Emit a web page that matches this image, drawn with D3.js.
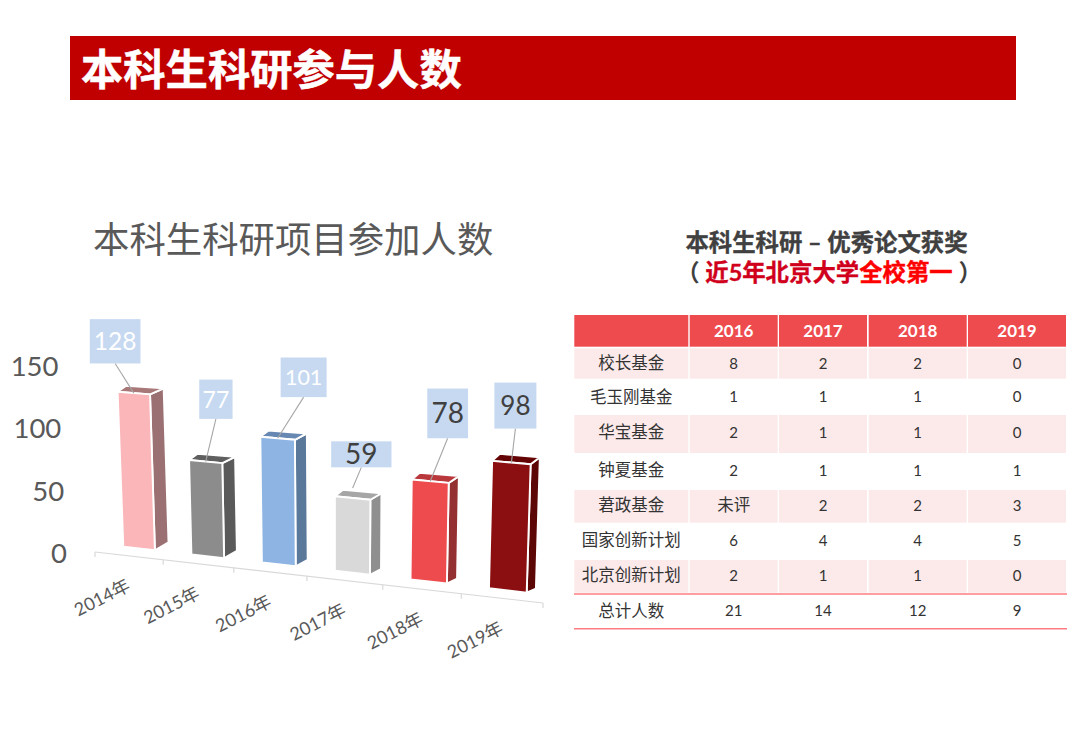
<!DOCTYPE html>
<html lang="zh">
<head>
<meta charset="utf-8">
<script src="https://cdn.jsdelivr.net/npm/d3@7/dist/d3.min.js"></script>
<style>
html,body{margin:0;padding:0;background:#fff;}
svg{display:block;}
text{font-family:Lato,"Noto Sans CJK SC",sans-serif;}
</style>
</head>
<body>
<svg id="c" width="1080" height="741"></svg>
<script>
// ---- chart data ----
const pageTitle = "本科生科研参与人数";
const chartTitle = "本科生科研项目参加人数";
const categories = ["2014年","2015年","2016年","2017年","2018年","2019年"];
const participants = [128,77,101,59,78,98];
const yTicks = [0,50,100,150];

// ---- table data ----
const tableTitle = "本科生科研 – 优秀论文获奖";
const tableYears = ["2016","2017","2018","2019"];
const tableRows = ["校长基金","毛玉刚基金","华宝基金","钟夏基金","莙政基金","国家创新计划","北京创新计划","总计人数"];
const awards2016 = [8,1,2,2,"未评",6,2,21];
const awards2017 = [2,1,1,1,2,4,1,14];
const awards2018 = [2,1,1,1,2,4,1,12];
const awards2019 = [0,0,0,1,3,5,0,9];

// ---- styling / layout ----
const barFaces = [
  {front:"#FAB6B8",side:"#9A7072",top:"#A87778"},
  {front:"#8C8C8C",side:"#5A5A5A",top:"#5F5F5F"},
  {front:"#8DB4E2",side:"#5A7899",top:"#6688B3"},
  {front:"#D9D9D9",side:"#8F8F8F",top:"#A6A6A6"},
  {front:"#EE4B4F",side:"#953032",top:"#B8383C"},
  {front:"#8B0F10",side:"#5D0606",top:"#650404"}
];
const calloutLayout = [
  {dx:-18.7,dy:-51.8,w:50.7,h:44.3,size:24.5,color:"#fff",endDy:0},
  {dx:10.2,dy:-62.3,w:33.3,h:39.3,size:23,color:"#fff",endDy:0},
  {dx:26,dy:-61,w:46,h:39.6,size:21.5,color:"#fff",endDy:0},
  {dx:8.7,dy:-43.7,w:60.3,h:26,size:28,color:"#404040",endDy:-10},
  {dx:17.4,dy:-67.8,w:40.7,h:49.7,size:28,color:"#404040",endDy:0},
  {dx:4,dy:-57,w:42,h:46,size:26,color:"#404040",endDy:0}
];
const colEdges = [[574.3,688.3],[689.7,777.7],[779,867],[868.7,966.7],[968,1066]];
const headerBand = [315,346.7];
const rowBands = [[348.3,378.7],[379,414],[415,453],[453,489],[490,522.7],[523,559],[560,592.7],[594,628.7]];
const rowCentres = [364,397.3,433,471,506,541,576,611.3];

const svg = d3.select("#c");

// banner
svg.append("rect").attr("x",70).attr("y",36).attr("width",946).attr("height",64).attr("fill","#C00000");
svg.append("text").attr("x",81).attr("y",68.5).attr("dominant-baseline","central")
  .attr("font-size",42.3).attr("font-weight",700).attr("fill","#fff").attr("stroke","#fff").attr("stroke-width",0.5).text(pageTitle);

// chart title
svg.append("text").attr("x",93).attr("y",239).attr("dominant-baseline","central")
  .attr("font-size",36.4).attr("fill","#595959").text(chartTitle);

// ---- perspective projection of the 3-D column chart ----
const W = 1.114;
const persp = u => u/(u+W*(1-u));
const screenX = d3.scaleLinear().domain([0,1]).range([95,543]);
const axisY = d3.scaleLinear().domain([95,543]).range([552,603]);
const floorY = d3.scaleLinear().domain([123.3,489]).range([546.7,588.3]);
const heightPerUnit = d3.scaleLinear().domain([123.3,489]).range([1.21,1.30]);
const LEAN = 0.00021, VANISH_X = 335;
const project = (u,v) => {
  const x0 = screenX(persp(u));
  return [x0+(x0-VANISH_X)*LEAN*v, floorY(x0)-v*heightPerUnit(x0)];
};
const depthX = d3.scaleLinear().domain([155,527]).range([13.6,9.2]);
const depthBottomY = d3.scaleLinear().domain([155,527]).range([-8,-4]);
const depthTopY = d3.scaleLinear().domain([155,527]).range([-6,-7]);
const leftInset = d3.scaleLinear().domain([155,527]).range([5,1.5]);

const band = d3.scaleBand().domain(categories).range([0.0699,0.9672]).paddingInner(0.532).paddingOuter(0);
const tickU = d3.scaleLinear().domain([0,categories.length]).range([0,1]);

// axis
const axis = svg.append("g");
axis.append("line").attr("x1",screenX(0)).attr("x2",screenX(1)).attr("y1",axisY(95)).attr("y2",axisY(543))
  .attr("stroke","#D9D9D9").attr("stroke-width",1.2);
d3.range(categories.length+1).forEach(i=>{
  const x = screenX(persp(tickU(i)));
  axis.append("line").attr("x1",x).attr("x2",x).attr("y1",axisY(x)).attr("y2",axisY(x)+5)
    .attr("stroke","#D9D9D9").attr("stroke-width",1.2);
});
categories.forEach((c,i)=>{
  const x = screenX(persp(tickU(i+0.5)));
  const px = x-27, py = axisY(x)+41;
  svg.append("text").attr("transform",`translate(${px},${py}) rotate(-27)`)
    .attr("text-anchor","middle").attr("dominant-baseline","central")
    .attr("font-size",18).attr("fill","#595959").text(c);
});

// y labels (no axis line)
const yLabelY = d3.scaleLinear().domain([0,150]).range([553,366]);
const yLabelX = d3.scaleLinear().domain([0,150]).range([67,58.5]);
yTicks.forEach(t=>{
  svg.append("text").attr("x",yLabelX(t)).attr("y",yLabelY(t)).attr("dy","0.36em")
    .attr("text-anchor","end").attr("font-size",27.5).attr("fill","#595959").text(t);
});

// bars
const line = d3.line();
const poly = (g,pts,fill)=>g.append("path").attr("d",line(pts)+"Z").attr("fill",fill)
  .attr("stroke","#fff").attr("stroke-width",1.9).attr("stroke-linejoin","round");
const barTops = [];
categories.forEach((c,i)=>{
  const v = participants[i], g = svg.append("g");
  const uL = band(c), uR = uL+band.bandwidth();
  const bl = project(uL,0), br = project(uR,0), tl = project(uL,v), tr = project(uR,v);
  const dx = depthX(br[0]);
  const tb = depthTopY(br[0]);
  const backR = [tr[0]+dx,tr[1]+tb], backRB = [br[0]+dx,br[1]+depthBottomY(br[0])];
  const backL = [tl[0]+dx-leftInset(br[0]),tl[1]+tb];
  poly(g,[tr,backR,backRB,br],barFaces[i].side);
  poly(g,[tl,backL,backR,tr],barFaces[i].top);
  poly(g,[tl,tr,br,bl],barFaces[i].front);
  barTops.push([(tl[0]+tr[0])/2,(tl[1]+tr[1])/2]);
});

// callouts
categories.forEach((c,i)=>{
  const L = calloutLayout[i], top = barTops[i];
  const cx = top[0]+L.dx, cy = top[1]+L.dy;
  svg.append("line").attr("x1",cx).attr("y1",cy+L.h/2).attr("x2",top[0]).attr("y2",top[1]+L.endDy)
    .attr("stroke","#A6A6A6").attr("stroke-width",1.1);
  svg.append("rect").attr("x",cx-L.w/2).attr("y",cy-L.h/2).attr("width",L.w).attr("height",L.h).attr("fill","#C6D9F1");
  svg.append("text").attr("x",cx).attr("y",cy).attr("dy","0.36em").attr("text-anchor","middle")
    .attr("font-size",L.size).attr("fill",L.color).text(participants[i]);
});

// ---- right side title ----
svg.append("text").attr("x",826.5).attr("y",242).attr("dominant-baseline","central").attr("text-anchor","middle")
  .attr("font-size",23.4).attr("font-weight",700).attr("fill","#404040").attr("stroke","#404040").attr("stroke-width",0.35).text(tableTitle);
const sub = svg.append("text").attr("x",829).attr("y",271.5).attr("dominant-baseline","central").attr("text-anchor","middle")
  .attr("font-size",23.4).attr("font-weight",700).attr("fill","#404040");
sub.append("tspan").text("（ ");
sub.append("tspan").attr("fill","#D0001C").attr("stroke","#D0001C").attr("stroke-width",0.35).text("近5年北京大学");
sub.append("tspan").attr("fill","#FF0000").attr("stroke","#FF0000").attr("stroke-width",0.35).text("全校第一");
sub.append("tspan").text(" ）");

// ---- table ----
const tbl = svg.append("g");
colEdges.forEach((e,j)=>{
  tbl.append("rect").attr("x",e[0]).attr("y",headerBand[0]).attr("width",e[1]-e[0]).attr("height",headerBand[1]-headerBand[0]).attr("fill","#EE4B4F");
  if(j>0) tbl.append("text").attr("x",(e[0]+e[1])/2).attr("y",331).attr("dy","0.36em").attr("text-anchor","middle")
    .attr("font-size",17).attr("font-weight",700).attr("fill","#fff").text(tableYears[j-1]);
});
const columns = [tableRows,awards2016,awards2017,awards2018,awards2019];
tableRows.forEach((r,i)=>{
  const b = rowBands[i];
  if(i%2===0 && i<7) colEdges.forEach(e=>{
    tbl.append("rect").attr("x",e[0]).attr("y",b[0]).attr("width",e[1]-e[0]).attr("height",b[1]-b[0]).attr("fill","#FCEAEA");
  });
  columns.forEach((col,j)=>{
    const e = colEdges[j], val = col[i], cjk = typeof val==="string";
    const t = tbl.append("text").attr("x",(e[0]+e[1])/2).attr("y",rowCentres[i]-(cjk?0.8:0.4)).attr("text-anchor","middle")
      .attr("fill","#333333").attr("font-size",cjk?16.5:15).text(val);
    if(cjk) t.attr("dominant-baseline","central"); else t.attr("dy","0.36em");
  });
});
[594,628.7].forEach(y=>{
  tbl.append("line").attr("x1",574).attr("x2",1067).attr("y1",y).attr("y2",y)
    .attr("stroke","#FF7C80").attr("stroke-width",1.6);
});
</script>
</body>
</html>
